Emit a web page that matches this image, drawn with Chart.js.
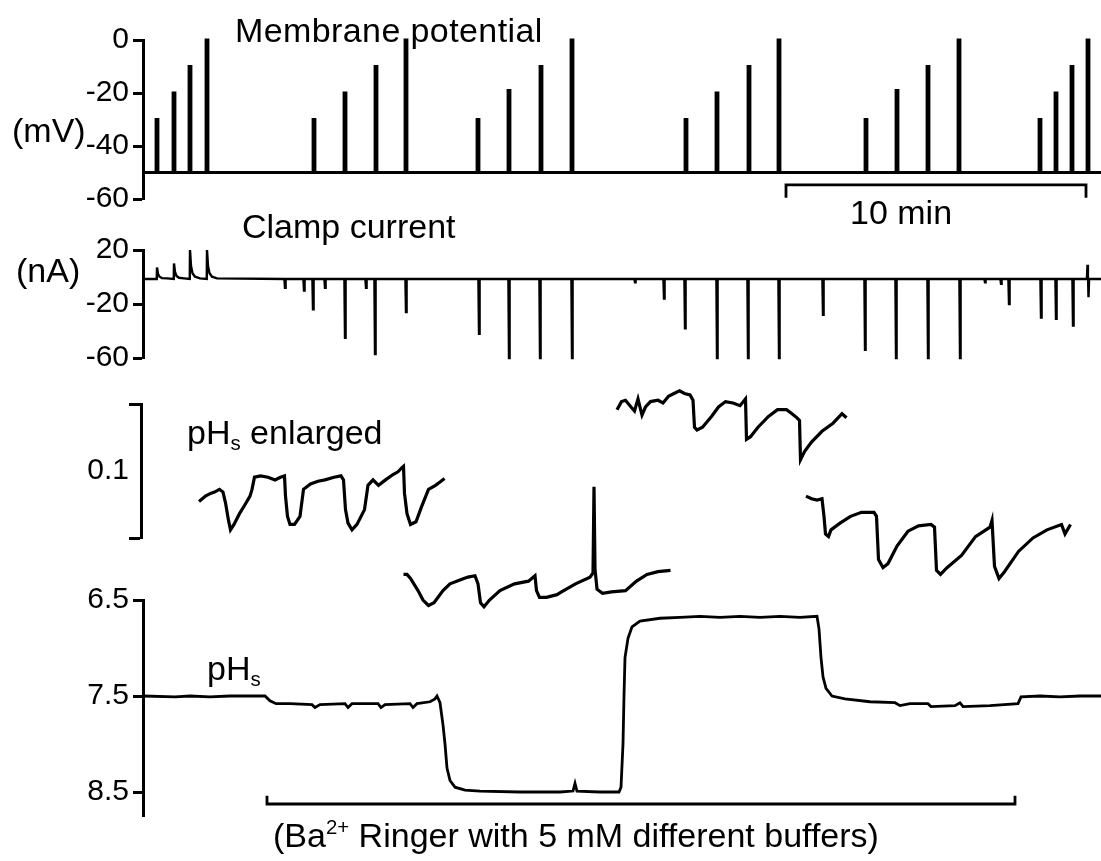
<!DOCTYPE html>
<html><head><meta charset="utf-8">
<script src="https://cdn.jsdelivr.net/npm/chart.js@4.4.1/dist/chart.umd.min.js"></script>
<style>
html,body{margin:0;padding:0;background:#fff;}
#fig{position:relative;width:1101px;height:861px;overflow:hidden;background:#fff;font-family:"Liberation Sans",Arial,Helvetica,sans-serif;color:#000;}
#fig canvas{position:absolute;}
.lbl{position:absolute;white-space:nowrap;font-size:34px;line-height:1;}
.lbl sub{font-size:0.6em;vertical-align:-0.3em;line-height:0;}
.lbl sup{font-size:0.6em;vertical-align:0.65em;line-height:0;}
</style></head><body>
<div id="fig">
  <canvas id="cMem" width="1101" height="230" style="left:0;top:0;width:1101px;height:230px"></canvas>
  <canvas id="cCur" width="1101" height="180" style="left:0;top:200px;width:1101px;height:180px"></canvas>
  <canvas id="cScale" width="170" height="174" style="left:0;top:386px;width:170px;height:174px"></canvas>
  <canvas id="cEnl" width="1101" height="243" style="left:0;top:380px;width:1101px;height:243px"></canvas>
  <canvas id="cPh" width="1101" height="300" style="left:0;top:560px;width:1101px;height:300px"></canvas>
  <div class="lbl" style="left:235px;top:13px;letter-spacing:0.4px">Membrane potential</div>
  <div class="lbl" style="left:12px;top:113px">(mV)</div>
  <div class="lbl" style="left:850px;top:195px">10 min</div>
  <div class="lbl" style="left:242px;top:209px">Clamp current</div>
  <div class="lbl" style="left:16px;top:253px">(nA)</div>
  <div class="lbl" style="left:187px;top:415px">pH<sub>s</sub> enlarged</div>
  <div class="lbl" style="left:207px;top:651px">pH<sub>s</sub></div>
  <div class="lbl" style="left:273px;top:818px">(Ba<sup>2+</sup> Ringer with 5 mM different buffers)</div>
</div>
<script>
// ---------- data (time in seconds from the start of the record) ----------
const TIME_MAX = 1916;

// Membrane potential (mV): voltage-clamp pulses from the holding potential
const mpHolding = -50;
const mpPulseTimes = [28,62,94,128, 342,404,466,526, 670,732,796,858, 1086,1148,1212,1272, 1446,1508,1570,1632, 1794,1826,1858,1890];
const mpPulseLevels = [-30,-20,-10,0, -30,-20,-10,0, -30,-19,-10,0, -30,-20,-10,0, -30,-19,-10,0, -30,-20,-10,0];
const mpTicks = [0,-20,-40,-60];
const timeBarStart = 1286, timeBarEnd = 1886;   // 10 min
const timeBarLevel = -54.7, timeBarTickEnd = -59.5;

// Clamp current (nA)
const ccBase = -1.5;
const ccOutTimes = [28,62,94,128];            // outward currents with slow decay
const ccOutPeaks = [7,10,20,20];
const ccSpikeTimes = [284,322,340,364,404,446,464,526, 672,732,794,858, 984,1042,1084,1148,1210,1272, 1360,1444,1506,1570,1634, 1684,1716,1732,1796,1826,1860,1889,1891];
const ccSpikePeaks = [-8,-10,-24,-8,-45,-8,-57,-26, -42,-60,-60,-60, -4,-16,-38,-60,-60,-60, -28,-54,-60,-60,-60, -4,-5,-20,-30,-31,-36,9,-15];
const ccTicks = [20,-20,-60];

// pHs enlarged (relative, milli-pH units)
const enlA_t = [112,125,135,143,153,160,165,171,175,182,193,203,214,218,223,235,250,264,275,283,285,289,294,303,314,321,335,350,364,382,396,401,405,410,418,428,443,450,460,471,485,500,510,518,521,523,528,535,546,557,571,585,596,603];
const enlA_v = [90,94,96,97,99,97,89,76,69,73,81,87,94,99,108,109,108,106,108,109,94,79,73,73,79,99,103,105,106,108,109,106,84,74,69,73,84,102,106,102,106,110,112,115,116,96,81,73,75,86,99,102,105,107];
const enlB_t = [521,528,535,550,560,571,582,600,614,635,650,664,670,675,682,693,714,743,771,784,787,793,807,828,837,865,894,900,902,904,908,919,937,965,987,1008,1030,1055];
const enlB_v = [36,36,33,24,17,13,15,24,29,32,34,35,29,15,12,17,24,29,31,35,24,19,19,21,23,29,34,37,101,40,25,22,23,24,31,36,38,39];
const enlC_t = [948,957,965,976,983,990,998,1005,1015,1030,1040,1051,1062,1073,1083,1094,1100,1103,1108,1119,1137,1151,1165,1180,1194,1205,1207,1215,1230,1251,1269,1287,1298,1308,1313,1315,1323,1337,1358,1380,1398,1407];
const enlC_v = [158,164,165,160,157,166,154,160,164,165,163,168,170,172,170,169,165,145,143,145,153,160,164,163,161,166,136,138,145,153,158,158,155,152,150,121,127,134,142,148,155,152];
const enlD_t = [1326,1337,1348,1358,1362,1365,1371,1376,1394,1415,1437,1462,1467,1471,1480,1490,1508,1530,1551,1576,1583,1587,1595,1608,1637,1665,1694,1698,1703,1712,1723,1751,1780,1808,1837,1844,1855];
const enlD_v = [94,92,91,92,79,66,64,69,74,79,82,82,79,47,41,44,57,68,72,73,71,39,36,41,50,64,71,76,42,33,38,53,63,69,73,66,73];
const enlScaleBar = 100; // 0.1 pH

// pHs
const phTime = [0,64,94,134,174,244,254,266,294,338,344,354,404,410,418,470,476,484,534,540,548,574,584,588,594,600,604,608,614,624,644,674,754,834,860,864,868,914,952,956,960,962,964,970,978,994,1034,1074,1114,1154,1194,1234,1274,1314,1348,1352,1356,1360,1366,1378,1404,1454,1504,1514,1534,1570,1576,1624,1634,1640,1694,1750,1756,1794,1834,1874,1916];
const phValue = [7.50,7.51,7.50,7.51,7.50,7.50,7.55,7.58,7.58,7.59,7.62,7.59,7.58,7.62,7.58,7.58,7.62,7.59,7.58,7.62,7.58,7.56,7.53,7.50,7.57,7.80,8.00,8.25,8.38,8.45,8.48,8.49,8.50,8.50,8.49,8.41,8.49,8.50,8.50,8.45,8.00,7.50,7.10,6.90,6.78,6.72,6.69,6.68,6.67,6.68,6.67,6.68,6.67,6.68,6.67,6.80,7.10,7.30,7.42,7.50,7.53,7.56,7.57,7.60,7.58,7.58,7.61,7.60,7.57,7.61,7.60,7.58,7.51,7.50,7.51,7.50,7.50];
const phTicks = [6.5,7.5,8.5];
const bufferStart = 248, bufferEnd = 1744;   // Ba2+ Ringer with buffers
const bufferLevel = 8.625, bufferTickEnd = 8.54;

// ---------- build datasets ----------
const mpData = [{x:0,y:mpHolding}];
mpPulseTimes.forEach((t,i)=>{
  mpData.push({x:t-2,y:mpHolding},{x:t-2,y:mpPulseLevels[i]},{x:t+2,y:mpPulseLevels[i]},{x:t+2,y:mpHolding});
});
mpData.push({x:TIME_MAX,y:mpHolding});
const timeBar = [{x:timeBarStart,y:timeBarTickEnd},{x:timeBarStart,y:timeBarLevel},{x:timeBarEnd,y:timeBarLevel},{x:timeBarEnd,y:timeBarTickEnd}];

let ccPts = [{x:0,y:ccBase},{x:TIME_MAX,y:ccBase}];
ccOutTimes.forEach((t,i)=>{
  const p = ccOutPeaks[i], d = p-ccBase;
  ccPts.push({x:t-0.5,y:ccBase},{x:t,y:p},{x:t+2,y:ccBase+d*0.45},{x:t+5,y:ccBase+d*0.2},{x:t+10,y:ccBase+d*0.08},{x:t+20,y:ccBase+0.5});
});
ccSpikeTimes.forEach((t,i)=>{
  ccPts.push({x:t-1.2,y:ccBase},{x:t,y:ccSpikePeaks[i]},{x:t+1.2,y:ccBase});
});
ccPts.sort((a,b)=>a.x-b.x);

const zip = (t,v)=>t.map((x,i)=>({x, y:v[i]}));
const bufferBar = [{x:bufferStart,y:bufferTickEnd},{x:bufferStart,y:bufferLevel},{x:bufferEnd,y:bufferLevel},{x:bufferEnd,y:bufferTickEnd}];

// ---------- charts ----------
Chart.defaults.font.family = '"Liberation Sans", Arial, Helvetica, sans-serif';
Chart.defaults.color = '#000';

const AXIS_X = 143;
function xScale(){ return {type:'linear', min:0, max:TIME_MAX, display:false}; }
function yScale(min,max,tickVals,o){
  o = o||{};
  return {
    type:'linear', min, max, reverse:!!o.reverse,
    afterBuildTicks: s => { s.ticks = tickVals.map(v=>({value:v})); },
    afterFit: s => { s.width = o.width||AXIS_X; },
    grid:{display:true, drawOnChartArea:false, drawTicks:true, tickLength:o.tickLength||10, tickWidth:3,
          tickColor: o.tickColor||'#000'},
    border:{display:true, color:'#000', width:3},
    ticks:{color:'#000', font:{size:30}, padding:o.padding!=null?o.padding:4, autoSkip:false,
           callback: o.label || (v=>String(v))}
  };
}
function lineDs(data,w){
  return {data, borderColor:'#000', backgroundColor:'#000', borderWidth:w, pointRadius:0, tension:0,
          fill:false, clip:false, borderJoinStyle:'miter', borderCapStyle:'butt'};
}
function makeChart(id,datasets,scales,padding){
  return new Chart(document.getElementById(id), {
    type:'line', data:{datasets},
    options:{responsive:false, devicePixelRatio:1, animation:false, events:[],
      layout:{padding}, plugins:{legend:{display:false}, tooltip:{enabled:false}, title:{display:false}},
      scales}
  });
}

makeChart('cMem', [lineDs(mpData,2.8), lineDs(timeBar,2.8)],
  {x:xScale(), y:yScale(-60,0,mpTicks)}, {top:40,bottom:31,left:0,right:0});

makeChart('cCur', [lineDs(ccPts,2.4)],
  {x:xScale(), y:yScale(-60,20,ccTicks)}, {top:50,bottom:22,left:0,right:0});

makeChart('cScale', [],
  {x:{type:'linear',min:0,max:1,display:false},
   y:yScale(0,enlScaleBar,[0,enlScaleBar/2,enlScaleBar],{width:141,tickLength:12,padding:0,
     tickColor: c => (c.tick && c.tick.value===enlScaleBar/2) ? 'rgba(0,0,0,0)' : '#000',
     label: v => v===enlScaleBar/2 ? (enlScaleBar/1000).toFixed(1) : ''})},
  {top:18,bottom:22,left:0,right:0});

makeChart('cEnl', [lineDs(zip(enlA_t,enlA_v),3.2), lineDs(zip(enlB_t,enlB_v),3.2),
                   lineDs(zip(enlC_t,enlC_v),3.2), lineDs(zip(enlD_t,enlD_v),3.2)],
  {x:xScale(), y:{type:'linear',min:0,max:180,display:false}}, {top:0,bottom:0,left:AXIS_X,right:0});

makeChart('cPh', [lineDs(zip(phTime,phValue),2.8), lineDs(bufferBar,2.8)],
  {x:xScale(), y:yScale(6.5,8.75,phTicks,{reverse:true, label:v=>v.toFixed(1)})}, {top:40,bottom:44,left:0,right:0});
</script>
</body></html>
